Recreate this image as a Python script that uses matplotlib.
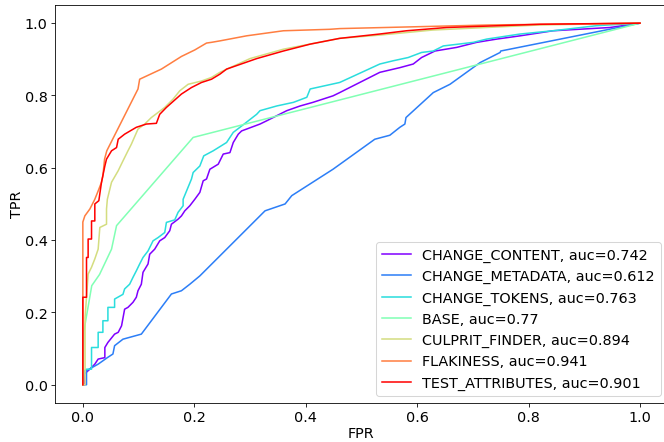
import numpy as np
import matplotlib
matplotlib.use("Agg")
import matplotlib.pyplot as plt

# ROC curves (FPR, TPR vertices)
names = ["CHANGE_CONTENT", "CHANGE_METADATA", "CHANGE_TOKENS", "BASE",
         "CULPRIT_FINDER", "FLAKINESS", "TEST_ATTRIBUTES"]
aucs = ["0.742", "0.612", "0.763", "0.77", "0.894", "0.941", "0.901"]

content_fpr = [0, 0.003, 0.003, 0.0126, 0.0215, 0.0275, 0.0395, 0.0395, 0.045, 0.057, 0.0635,
               0.0695, 0.075, 0.081, 0.09, 0.096, 0.099, 0.105, 0.108, 0.117, 0.12, 0.129,
               0.138, 0.147, 0.156, 0.159, 0.171, 0.177, 0.183, 0.192, 0.201, 0.21, 0.216,
               0.222, 0.228, 0.243, 0.252, 0.264, 0.27, 0.279, 0.285, 0.318, 0.33, 0.348,
               0.366, 0.39, 0.413, 0.431, 0.449, 0.461, 0.533, 0.569, 0.593, 0.608, 0.632,
               0.671, 0.707, 0.743, 0.785, 0.844, 0.946, 1.0]
content_tpr = [0, 0, 0.03, 0.043, 0.057, 0.071, 0.075, 0.103, 0.117, 0.14, 0.145,
               0.163, 0.209, 0.214, 0.228, 0.242, 0.26, 0.278, 0.311, 0.334, 0.361, 0.375,
               0.398, 0.407, 0.426, 0.444, 0.458, 0.467, 0.481, 0.495, 0.513, 0.532, 0.564,
               0.569, 0.596, 0.61, 0.638, 0.642, 0.67, 0.693, 0.702, 0.721, 0.73, 0.744,
               0.758, 0.771, 0.781, 0.79, 0.799, 0.808, 0.864, 0.877, 0.887, 0.905, 0.923,
               0.933, 0.947, 0.956, 0.965, 0.979, 0.988, 1.0]

metadata_fpr = [0, 0.0066, 0.0066, 0.0275, 0.045, 0.054, 0.057, 0.072, 0.105, 0.159, 0.177,
                0.192, 0.21, 0.327, 0.363, 0.375, 0.449, 0.524, 0.551, 0.569, 0.578, 0.58,
                0.629, 0.659, 0.713, 0.749, 0.75, 1.0]
metadata_tpr = [0, 0, 0.039, 0.057, 0.076, 0.085, 0.108, 0.126, 0.14, 0.251, 0.26,
                0.278, 0.301, 0.481, 0.5, 0.523, 0.596, 0.679, 0.69, 0.712, 0.721, 0.739,
                0.808, 0.831, 0.891, 0.919, 0.923, 1.0]

tokens_fpr = [0, 0.003, 0.0066, 0.0156, 0.0156, 0.0275, 0.0275, 0.036, 0.036, 0.045, 0.045,
              0.057, 0.057, 0.072, 0.075, 0.084, 0.09, 0.096, 0.102, 0.108, 0.117, 0.126,
              0.135, 0.147, 0.15, 0.165, 0.171, 0.18, 0.18, 0.195, 0.198, 0.21, 0.217,
              0.234, 0.258, 0.27, 0.282, 0.312, 0.318, 0.348, 0.378, 0.402, 0.408, 0.461,
              0.533, 0.557, 0.584, 0.608, 0.629, 0.647, 0.701, 0.725, 0.785, 0.844, 0.922, 1.0]
tokens_tpr = [0, 0.039, 0.043, 0.043, 0.103, 0.103, 0.145, 0.145, 0.177, 0.177, 0.214,
              0.214, 0.237, 0.25, 0.265, 0.278, 0.297, 0.315, 0.334, 0.352, 0.37, 0.398,
              0.407, 0.421, 0.449, 0.456, 0.477, 0.495, 0.513, 0.569, 0.587, 0.605, 0.633,
              0.647, 0.67, 0.698, 0.712, 0.748, 0.758, 0.771, 0.781, 0.795, 0.818, 0.836,
              0.887, 0.896, 0.905, 0.919, 0.923, 0.937, 0.947, 0.956, 0.97, 0.979, 0.993, 1.0]

base_fpr = [0, 0.002, 0.016, 0.03, 0.0515, 0.0605, 0.198, 1.0]
base_tpr = [0, 0.149, 0.274, 0.305, 0.375, 0.44, 0.684, 1.0]

culprit_fpr = [0, 0.004, 0.004, 0.0095, 0.0156, 0.0215, 0.0275, 0.0305, 0.0425, 0.0425, 0.044,
               0.0515, 0.0635, 0.072, 0.081, 0.087, 0.099, 0.111, 0.123, 0.147, 0.162, 0.174,
               0.189, 0.213, 0.231, 0.246, 0.3, 0.36, 0.461, 0.533, 0.628, 0.82, 1.0]
culprit_tpr = [0, 0.0, 0.186, 0.306, 0.325, 0.348, 0.375, 0.435, 0.444, 0.486, 0.513,
               0.56, 0.592, 0.619, 0.647, 0.665, 0.707, 0.721, 0.739, 0.767, 0.79, 0.813,
               0.831, 0.84, 0.85, 0.864, 0.902, 0.928, 0.958, 0.967, 0.981, 0.995, 1.0]

flaky_fpr = [0, 0.0, 0.0036, 0.0126, 0.0215, 0.0275, 0.0335, 0.036, 0.039, 0.043, 0.099,
             0.102, 0.141, 0.177, 0.201, 0.222, 0.231, 0.246, 0.294, 0.36, 0.443, 0.461,
             0.73, 1.0]
flaky_tpr = [0, 0.45, 0.467, 0.486, 0.513, 0.536, 0.56, 0.578, 0.624, 0.647, 0.818,
             0.845, 0.873, 0.908, 0.926, 0.945, 0.947, 0.951, 0.965, 0.979, 0.983, 0.985,
             0.995, 1.0]

attr_fpr = [0, 0.0, 0.0066, 0.0066, 0.0095, 0.0095, 0.0156, 0.0156, 0.0215, 0.0215, 0.0287,
            0.0335, 0.0395, 0.0425, 0.0515, 0.0605, 0.0635, 0.075, 0.096, 0.114, 0.132,
            0.138, 0.15, 0.177, 0.195, 0.213, 0.231, 0.246, 0.258, 0.312, 0.36, 0.408,
            0.461, 0.533, 0.581, 0.653, 0.82, 1.0]
attr_tpr = [0, 0.242, 0.242, 0.352, 0.352, 0.403, 0.403, 0.453, 0.453, 0.5, 0.509,
            0.56, 0.605, 0.624, 0.647, 0.656, 0.679, 0.693, 0.712, 0.721, 0.723,
            0.748, 0.767, 0.804, 0.822, 0.836, 0.845, 0.859, 0.873, 0.902, 0.923, 0.942,
            0.958, 0.97, 0.979, 0.988, 0.997, 1.0]

curves = [(content_fpr, content_tpr), (metadata_fpr, metadata_tpr),
          (tokens_fpr, tokens_tpr), (base_fpr, base_tpr),
          (culprit_fpr, culprit_tpr), (flaky_fpr, flaky_tpr), (attr_fpr, attr_tpr)]

plt.rcParams["font.size"] = 14
dpi = 664 / 9
fig = plt.figure(figsize=(9, 6), dpi=dpi)
ax = fig.add_axes([0.0828, 0.0885, 0.923, 0.8985])
colors = plt.cm.rainbow(np.linspace(0, 1, len(names)))
for (fpr, tpr), name, auc, c in zip(curves, names, aucs, colors):
    ax.plot(fpr, tpr, color=c, lw=1.5, label=f"{name}, auc={auc}")
ax.set_xlabel("FPR", labelpad=2)
ax.set_ylabel("TPR", labelpad=1)
ax.legend(loc="lower right")
fig.savefig("out.png", dpi=dpi)
